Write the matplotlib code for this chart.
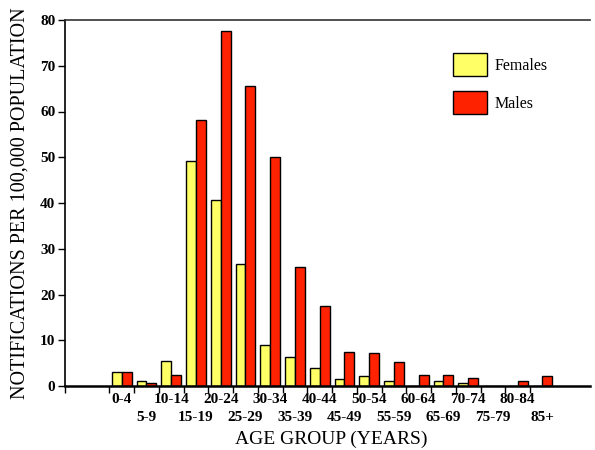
import numpy as np
import matplotlib.pyplot as plt

age_groups = ["0-4", "5-9", "10-14", "15-19", "20-24", "25-29", "30-34", "35-39",
              "40-44", "45-49", "50-54", "55-59", "60-64", "65-69", "70-74",
              "75-79", "80-84", "85+"]
females = [3.0, 1.0, 5.5, 49.2, 40.6, 26.7, 9.0, 6.3, 4.0, 1.5, 2.1, 1.0,
           0.1, 1.0, 0.6, 0.1, 0.0, 0.1]
males = [3.0, 0.6, 2.4, 58.1, 77.7, 65.5, 50.0, 26.0, 17.4, 7.5, 7.3, 5.2,
         2.5, 2.5, 1.7, 0.1, 1.1, 2.2]
y_ticks = list(range(0, 81, 10))

FEMALE_COLOR = "#ffff66"
MALE_COLOR = "#ff2200"
SERIF = ["Liberation Serif", "DejaVu Serif"]

fig = plt.figure(figsize=(5.95, 4.5), dpi=100)
ax = fig.add_axes([65 / 595, 1 - 386 / 450, 525 / 595, 366 / 450])

x = np.arange(len(age_groups))
w = 0.4
ax.bar(x - w / 2, females, width=w, color=FEMALE_COLOR, edgecolor="black",
       linewidth=1, label="Females")
ax.bar(x + w / 2, males, width=w, color=MALE_COLOR, edgecolor="black",
       linewidth=1, label="Males")

ax.set_xlim(-2.29, 18.92)
ax.set_ylim(0, 80)

# spines: left, bottom and top only
ax.spines["right"].set_visible(False)
ax.spines["left"].set_linewidth(1.2)
ax.spines["bottom"].set_linewidth(1.8)
ax.spines["top"].set_linewidth(1.2)
ax.spines["top"].set_color("#333333")

# y axis
ax.set_yticks(y_ticks)
ax.set_yticklabels([str(v) for v in y_ticks], fontfamily=SERIF,
                   fontweight="bold", fontsize=11)
ax.tick_params(axis="y", direction="out", length=5, width=1, pad=2)

# x axis: staggered labels at group centres (even -> major, odd -> minor)
tick_font = dict(fontfamily=SERIF, fontweight="bold", fontsize=11)
ax.set_xticks(x[::2])
ax.set_xticklabels(age_groups[::2], **tick_font)
ax.set_xticks(x[1::2], minor=True)
ax.set_xticklabels(age_groups[1::2], minor=True, **tick_font)
ax.tick_params(axis="x", which="major", length=0, pad=5)
ax.tick_params(axis="x", which="minor", length=0, pad=18)

# boundary ticks between the age groups
bounds = [-2.29] + list(np.arange(-0.5, 17, 1.0))
sec = ax.secondary_xaxis("bottom")
sec.set_xticks(bounds)
sec.set_xticklabels([])
sec.tick_params(axis="x", direction="out", length=5, width=1)
sec.spines["bottom"].set_visible(False)

ax.set_xlabel("AGE GROUP (YEARS)", fontfamily=SERIF, fontsize=14)
ax.xaxis.set_label_coords(0.507, -0.122)
ax.set_ylabel("NOTIFICATIONS PER 100,000 POPULATION", fontfamily=SERIF,
              fontsize=14.5)
ax.yaxis.set_label_coords(-0.068, 0.5)

ax.legend(loc="upper left", bbox_to_anchor=(453 / 595, 1 - 53 / 450),
          bbox_transform=fig.transFigure, frameon=False, borderpad=0,
          borderaxespad=0, handlelength=2.1, handleheight=1.85,
          handletextpad=0.5, labelspacing=0.95,
          prop={"family": SERIF, "size": 11.5})

fig.savefig("out.png", dpi=100)
